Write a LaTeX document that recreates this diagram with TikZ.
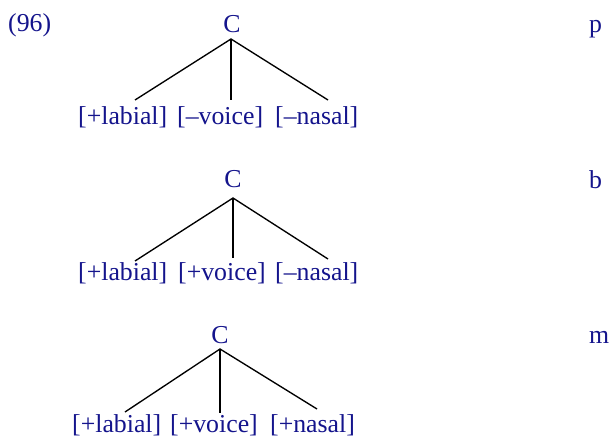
\documentclass[tikz,border=0pt]{standalone}
\usepackage{fontspec}
\setmainfont{Liberation Serif}
\definecolor{txtblue}{RGB}{20,20,140}
\tikzset{
  lbl/.style={anchor=base west, inner sep=0pt, text=txtblue, font=\fontsize{25.8}{30}\selectfont},
  cat/.style={anchor=base, inner sep=0pt, text=txtblue, font=\fontsize{25.8}{30}\selectfont},
  branch/.style={draw=black, line width=1.35pt}
}
\begin{document}
\begin{tikzpicture}[x=1pt,y=-1pt]
\useasboundingbox (0,0) rectangle (613,436);
\node[lbl] (ex) at (8,32) {(96)};
% tree 1
\node[cat] (c1) at (232,33) {C};
\coordinate (a1) at (231,39);
\node[lbl] (l1a) at (78,124) {[+labial]};
\node[lbl] (l1b) at (177,124) {[–voice]};
\node[lbl] (l1c) at (275,124) {[–nasal]};
\coordinate (e1a) at (135,100);
\coordinate (e1b) at (231,100);
\coordinate (e1c) at (328,100);
\draw[branch] (e1a) -- (a1) -- (e1c);
\draw[branch] (a1) -- (e1b);
\node[lbl] (s1) at (589,33) {p};
% tree 2
\node[cat] (c2) at (233,187) {C};
\coordinate (a2) at (233,198);
\node[lbl] (l2a) at (78,280) {[+labial]};
\node[lbl] (l2b) at (178,280) {[+voice]};
\node[lbl] (l2c) at (275,280) {[–nasal]};
\coordinate (e2a) at (135,261);
\coordinate (e2b) at (233,258);
\coordinate (e2c) at (328,259);
\draw[branch] (e2a) -- (a2) -- (e2c);
\draw[branch] (a2) -- (e2b);
\node[lbl] (s2) at (589,188) {b};
% tree 3
\node[cat] (c3) at (220,343) {C};
\coordinate (a3) at (220,349);
\node[lbl] (l3a) at (72,432) {[+labial]};
\node[lbl] (l3b) at (170,432) {[+voice]};
\node[lbl] (l3c) at (270,432) {[+nasal]};
\coordinate (e3a) at (125,412);
\coordinate (e3b) at (220,413);
\coordinate (e3c) at (317,409);
\draw[branch] (e3a) -- (a3) -- (e3c);
\draw[branch] (a3) -- (e3b);
\node[lbl] (s3) at (589,343) {m};
\end{tikzpicture}
\end{document}
